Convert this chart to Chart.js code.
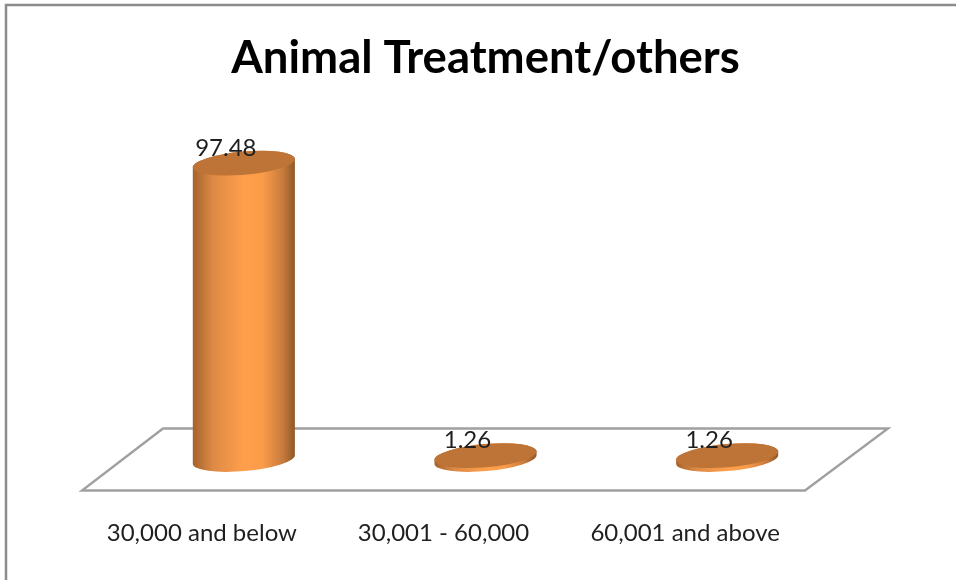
<!DOCTYPE html>
<html>
<head>
<meta charset="utf-8">
<title>Animal Treatment/others</title>
<style>
  html, body { margin: 0; padding: 0; background: #fff; }
  canvas { display: block; }
</style>
<script src="https://cdn.jsdelivr.net/npm/chart.js@4/dist/chart.umd.min.js"></script>
</head>
<body>
<canvas id="chart" width="956" height="580"></canvas>
<script>
const chartTitle = 'Animal Treatment/others';
const categories = ['30,000 and below', '30,001 - 60,000', '60,001 and above'];
const values = [97.48, 1.26, 1.26];

const FONT = 'Lato, "Open Sans", sans-serif';
const TILT = -0.087;      // the cylinder caps lean slightly upward to the right
const CAP_RY = 11.6;
const TOP_FACE = '#bd7436';
const FLOOR_LINE = '#a0a0a0';
const FRAME_LINE = '#8c8c8c';

// horizontal shading across one cylinder
function sideGradient(ctx, cx, half) {
  const g = ctx.createLinearGradient(cx - half, 0, cx + half, 0);
  g.addColorStop(0, '#a5622b');
  g.addColorStop(0.2, '#dd8a45');
  g.addColorStop(0.5, '#ff9f4b');
  g.addColorStop(0.68, '#fb9c4a');
  g.addColorStop(0.88, '#c87b3c');
  g.addColorStop(1, '#8f5726');
  return g;
}

// Cylinder instead of a flat rectangle, still sized from the bar's own x/y/base/width
Chart.BarElement.prototype.draw = function (ctx) {
  const rx = this.width / 2;
  ctx.save();
  ctx.beginPath();
  ctx.ellipse(this.x, this.base, rx, CAP_RY, TILT, Math.PI, 0, true);
  ctx.ellipse(this.x, this.y, rx, CAP_RY, TILT, 0, Math.PI, true);
  ctx.closePath();
  ctx.fillStyle = sideGradient(ctx, this.x, rx);
  ctx.fill();
  ctx.beginPath();
  ctx.ellipse(this.x, this.y, rx, CAP_RY, TILT, 0, Math.PI * 2);
  ctx.fillStyle = this.options.backgroundColor;
  ctx.fill();
  ctx.restore();
};

// Outer frame (top and left only) and the floor under the bars
const backdrop = {
  id: 'backdrop',
  beforeDatasetsDraw(chart) {
    const ctx = chart.ctx;
    const a = chart.chartArea;
    ctx.save();
    ctx.strokeStyle = FRAME_LINE;
    ctx.lineWidth = 2.5;
    ctx.beginPath();
    ctx.moveTo(6, 580);
    ctx.lineTo(6, 5);
    ctx.lineTo(956, 5);
    ctx.stroke();
    ctx.strokeStyle = FLOOR_LINE;
    ctx.lineWidth = 2.4;
    ctx.lineJoin = 'miter';
    ctx.beginPath();
    ctx.moveTo(a.left - 41, a.bottom + 31);
    ctx.lineTo(a.right - 43, a.bottom + 31);
    ctx.lineTo(a.right + 40, a.bottom - 31);
    ctx.lineTo(a.left + 40, a.bottom - 31);
    ctx.closePath();
    ctx.stroke();
    ctx.restore();
  },
};

const valueLabels = {
  id: 'valueLabels',
  afterDatasetsDraw(chart) {
    const ctx = chart.ctx;
    ctx.save();
    ctx.font = '24px ' + FONT;
    ctx.fillStyle = '#1f1f1f';
    ctx.textAlign = 'center';
    ctx.textBaseline = 'middle';
    chart.getDatasetMeta(0).data.forEach(function (bar, i) {
      ctx.fillText(values[i].toFixed(2), bar.x - 18, bar.y - 15);
    });
    ctx.restore();
  },
};

new Chart(document.getElementById('chart'), {
  type: 'bar',
  data: {
    labels: categories,
    datasets: [{
      data: values,
      backgroundColor: TOP_FACE,
      barPercentage: 0.424,
      categoryPercentage: 1,
      clip: false,
    }],
  },
  options: {
    responsive: false,
    animation: false,
    layout: { padding: { left: 123, right: 108, top: 0, bottom: 0 } },
    plugins: {
      legend: { display: false },
      tooltip: { enabled: false },
      title: {
        display: true,
        text: chartTitle,
        color: '#000',
        font: { family: FONT, size: 45.5, weight: 'bold' },
        padding: { top: 31, bottom: 69.9 },
      },
    },
    scales: {
      x: {
        grid: { display: false, drawTicks: false },
        border: { display: false },
        ticks: {
          padding: 59,
          labelOffset: -42,   // labels follow the front edge of the slanted floor
          color: '#1f1f1f',
          font: { family: FONT, size: 24 },
          maxRotation: 0,
          autoSkip: false,
        },
        // ticks sit well below the floor, keep the plot height fixed anyway
        afterFit(scale) { scale.height = 120.5; },
      },
      y: { display: false, min: 0, max: 100 },
    },
  },
  plugins: [backdrop, valueLabels],
});
</script>
</body>
</html>
